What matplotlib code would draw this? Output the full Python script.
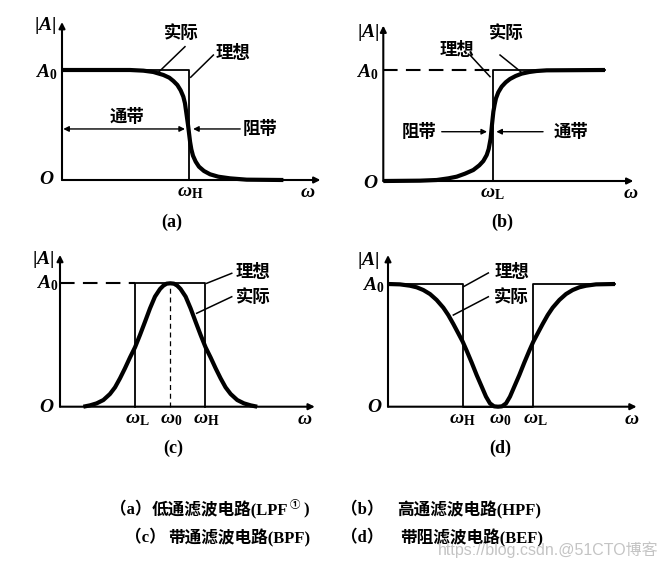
import matplotlib
matplotlib.use('Agg')
import matplotlib.pyplot as plt

plt.rcParams['mathtext.fontset'] = 'custom'
plt.rcParams['mathtext.it'] = 'Liberation Serif:italic:bold'
plt.rcParams['mathtext.rm'] = 'Liberation Serif:bold'
plt.rcParams['mathtext.bf'] = 'Liberation Serif:bold'
plt.rcParams['font.family'] = ['Liberation Serif', 'Noto Sans CJK SC']

W, H = 665, 569
CJK = ['Noto Sans CJK SC']

# ---- data: omega in units of the cutoff, |A| in units of A0 ----
# (a) low pass
lpf_w = [0, 0.534, 0.639, 0.717, 0.796, 0.843, 0.875, 0.906, 0.932, 0.953,
         0.966, 0.979, 0.990, 0.998, 1.006, 1.016, 1.029, 1.05, 1.076, 1.115,
         1.163, 1.228, 1.320, 1.451, 1.739]
lpf_a = [1.0, 1.0, 0.994, 0.982, 0.955, 0.930, 0.9, 0.864, 0.815, 0.758,
         0.697, 0.591, 0.5, 0.424, 0.348, 0.279, 0.221, 0.167, 0.121, 0.082,
         0.052, 0.030, 0.015, 0.003, 0.0]
lpf_ideal_w = [0, 1, 1]
lpf_ideal_a = [1, 1, 0]

# (b) high pass
hpf_w = [0, 0.336, 0.489, 0.596, 0.672, 0.748, 0.824, 0.879, 0.916, 0.947,
         0.965, 0.983, 0.995, 1.008, 1.020, 1.032, 1.053, 1.084, 1.121, 1.160,
         1.212, 1.267, 1.337, 1.404, 1.496, 2.03]
hpf_a = [0, 0.003, 0.009, 0.024, 0.039, 0.066, 0.099, 0.141, 0.180, 0.234,
         0.288, 0.384, 0.505, 0.625, 0.691, 0.745, 0.799, 0.850, 0.889, 0.919,
         0.946, 0.967, 0.982, 0.991, 0.997, 1.0]
hpf_ideal_w = [1, 1, 2.03]
hpf_ideal_a = [0, 1, 1]

# (c) band pass
bpf_w = [0.212, 0.272, 0.332, 0.393, 0.453, 0.499, 0.544, 0.589, 0.635, 0.680,
         0.725, 0.771, 0.816, 0.861, 0.907, 0.937, 0.967, 1.0, 1.033, 1.063,
         1.093, 1.139, 1.184, 1.229, 1.275, 1.320, 1.365, 1.411, 1.456, 1.501,
         1.547, 1.607, 1.668, 1.728, 1.788]
bpf_a = [0, 0.011, 0.027, 0.054, 0.103, 0.157, 0.23, 0.311, 0.4, 0.481,
         0.581, 0.689, 0.797, 0.892, 0.954, 0.981, 0.997, 1.0, 0.997, 0.981,
         0.954, 0.892, 0.797, 0.689, 0.581, 0.481, 0.4, 0.311, 0.23, 0.157,
         0.103, 0.054, 0.027, 0.011, 0]
bpf_edges = [0.683, 1.0, 1.318]          # wL, w0, wH
bpf_ideal_w = [0.683, 0.683, 1.318, 1.318]
bpf_ideal_a = [0, 1, 1, 0]

# (d) band stop
bef_w = [0, 0.109, 0.2, 0.261, 0.321, 0.382, 0.442, 0.503, 0.548, 0.594,
         0.639, 0.679, 0.715, 0.761, 0.806, 0.852, 0.891, 0.927, 0.964, 1.0,
         1.036, 1.073, 1.109, 1.148, 1.194, 1.239, 1.285, 1.321, 1.361, 1.406,
         1.452, 1.497, 1.558, 1.618, 1.679, 1.739, 1.8, 1.891, 2.064]
bef_a = [1.0, 0.997, 0.986, 0.973, 0.951, 0.918, 0.870, 0.807, 0.747, 0.674,
         0.598, 0.530, 0.457, 0.359, 0.258, 0.163, 0.082, 0.027, 0.003, 0,
         0.003, 0.027, 0.082, 0.163, 0.258, 0.359, 0.457, 0.530, 0.598, 0.674,
         0.747, 0.807, 0.870, 0.918, 0.951, 0.973, 0.986, 0.997, 1.0]
bef_edges = [0.682, 1.0, 1.321]          # wH, w0, wL
bef_ideal_w = [0, 0.682, 0.682, 1.321, 1.321, 2.064]
bef_ideal_a = [1, 1, 0, 0, 1, 1]

# panel geometry in pixels: origin, px per unit, axis lengths
geo = {
    'a': dict(ox=62, oy=180, sx=127.3, sy=110, xend=2.03, ytop=1.436),
    'b': dict(ox=383.3, oy=181, sx=109.2, sy=111, xend=2.29, ytop=1.40),
    'c': dict(ox=60, oy=406.7, sx=110.3, sy=123.4, xend=2.31, ytop=1.23),
    'd': dict(ox=388, oy=406.7, sx=110, sy=122.7, xend=2.26, ytop=1.236),
}

fig = plt.figure(figsize=(W / 100, H / 100), dpi=100)

THICK = 3.0
THIN = 1.3


def make_ax(g):
    ax = fig.add_axes([g['ox'] / W, 1 - g['oy'] / H,
                       g['xend'] * g['sx'] / W, g['ytop'] * g['sy'] / H])
    ax.set_xlim(0, g['xend'])
    ax.set_ylim(0, g['ytop'])
    ax.axis('off')
    ap = dict(arrowstyle='-|>', lw=1.5, color='k', mutation_scale=9,
              shrinkA=0, shrinkB=0)
    ax.annotate('', xy=(g['xend'], 0), xytext=(0, 0), arrowprops=ap)
    ax.annotate('', xy=(0, g['ytop']), xytext=(0, 0), arrowprops=ap)
    return ax


def lab(ax, s, x, y, dx, dy, size=14, **kw):
    ax.annotate(s, (x, y), xytext=(dx, dy), textcoords='offset pixels',
                ha='center', va='center', fontsize=size, **kw)


def cn(ax, s, x, y, ha='center'):
    ax.text(x, y, s, ha=ha, va='center', fontsize=12.5, family=CJK,
            fontweight='bold')


def leader(ax, p0, p1):
    ax.plot([p0[0], p1[0]], [p0[1], p1[1]], color='k', lw=1.1, clip_on=False)


def arrow(ax, x0, x1, y, style='-|>'):
    ax.annotate('', xy=(x1, y), xytext=(x0, y),
                arrowprops=dict(arrowstyle=style, lw=1.0, color='k',
                                mutation_scale=8, shrinkA=0, shrinkB=0))


def curve(ax, w, a):
    ax.plot(w, a, color='k', lw=THICK, clip_on=False, solid_capstyle='butt',
            solid_joinstyle='round')


dash = (0, (7, 4))

# ---- (a) ----
g = geo['a']
ax = make_ax(g)
curve(ax, lpf_w, lpf_a)
ax.plot(lpf_ideal_w, lpf_ideal_a, color='k', lw=THIN, clip_on=False)
lab(ax, r'$|A|$', 0, g['ytop'], -17, -3)
lab(ax, r'$A_0$', 0, 1, -16, -2)
lab(ax, r'$O$', 0, 0, -15, 0)
lab(ax, r'$\omega_{\mathrm{H}}$', 1, 0, 1, -13)
lab(ax, r'$\omega$', g['xend'], 0, -13, -13)
cn(ax, '实际', 0.94, 1.335)
leader(ax, (0.966, 1.212), (0.744, 0.964))
cn(ax, '理想', 1.343, 1.152)
leader(ax, (1.189, 1.136), (1.011, 0.934))
cn(ax, '通带', 0.51, 0.573)
arrow(ax, 0.01, 0.966, 0.464, '<|-|>')
arrow(ax, 1.40, 1.03, 0.464)
cn(ax, '阻带', 1.42, 0.464, ha='left')

# ---- (b) ----
g = geo['b']
ax = make_ax(g)
curve(ax, hpf_w, hpf_a)
ax.plot([0, 1], [1, 1], color='k', lw=1.5, linestyle=dash, clip_on=False)
ax.plot(hpf_ideal_w, hpf_ideal_a, color='k', lw=THIN, clip_on=False)
lab(ax, r'$|A|$', 0, g['ytop'], -15, -7)
lab(ax, r'$A_0$', 0, 1, -16, -2)
lab(ax, r'$O$', 0, 0, -13, -2)
lab(ax, r'$\omega_{\mathrm{L}}$', 1, 0, 0, -12)
lab(ax, r'$\omega$', g['xend'], 0, -3, -12)
cn(ax, '理想', 0.672, 1.18)
leader(ax, (0.794, 1.135), (0.977, 0.94))
cn(ax, '实际', 1.13, 1.33)
leader(ax, (1.069, 1.135), (1.258, 0.985))
cn(ax, '阻带', 0.326, 0.444)
arrow(ax, 0.535, 0.95, 0.444)
arrow(ax, 1.463, 1.035, 0.444)
cn(ax, '通带', 1.72, 0.444)

# ---- (c) ----
g = geo['c']
ax = make_ax(g)
curve(ax, bpf_w, bpf_a)
ax.plot([0, bpf_edges[0]], [1, 1], color='k', lw=1.5, linestyle=dash, clip_on=False)
ax.plot(bpf_ideal_w, bpf_ideal_a, color='k', lw=THIN, clip_on=False)
ax.plot([bpf_edges[1]] * 2, [0, 1], color='k', lw=0.9, linestyle=(0, (4, 3)),
        clip_on=False)
lab(ax, r'$|A|$', 0, g['ytop'], -17, -5)
lab(ax, r'$A_0$', 0, 1, -13, 0)
lab(ax, r'$O$', 0, 0, -13, -1)
for s, x, dx in zip([r'$\omega_{\mathrm{L}}$', r'$\omega_0$', r'$\omega_{\mathrm{H}}$'],
                    bpf_edges, [2, 1, 1]):
    lab(ax, s, x, 0, dx, -13)
lab(ax, r'$\omega$', g['xend'], 0, -10, -13)
cn(ax, '理想', 1.753, 1.094)
leader(ax, (1.557, 1.081), (1.33, 1.0))
cn(ax, '实际', 1.753, 0.891)
leader(ax, (1.557, 0.891), (1.239, 0.757))

# ---- (d) ----
g = geo['d']
ax = make_ax(g)
curve(ax, bef_w, bef_a)
ax.plot(bef_ideal_w, bef_ideal_a, color='k', lw=THIN, clip_on=False)
lab(ax, r'$|A|$', 0, g['ytop'], -20, -5)
lab(ax, r'$A_0$', 0, 1, -15, -1)
lab(ax, r'$O$', 0, 0, -13, -1)
for s, x, dx in zip([r'$\omega_{\mathrm{H}}$', r'$\omega_0$', r'$\omega_{\mathrm{L}}$'],
                    bef_edges, [-1, 2, 2]):
    lab(ax, s, x, 0, dx, -13)
lab(ax, r'$\omega$', g['xend'], 0, -5, -13)
cn(ax, '理想', 1.124, 1.10)
leader(ax, (0.912, 1.09), (0.69, 0.98))
cn(ax, '实际', 1.124, 0.896)
leader(ax, (0.912, 0.896), (0.594, 0.747))

# panel tags
for s, x, y in [('(a)', 172, 222), ('(b)', 502, 222), ('(c)', 173, 448), ('(d)', 500, 448)]:
    fig.text(x / W, 1 - y / H, s, ha='center', va='center', fontsize=13,
             fontweight='bold')


def ftext(x, y, s, size=12, **kw):
    return fig.text(x / W, 1 - y / H, s, ha='left', va='center', fontsize=size,
                    fontweight='bold', **kw)


rend = fig.canvas.get_renderer()
ftext(110, 510, '（a）')
t = ftext(152, 510, '低通滤波电路(LPF')
x_end = t.get_window_extent(rend).x1
ftext(x_end + 1, 505, '①', size=7.5)
ftext(x_end + 15, 510, ')')
ftext(341, 510, '（b）')
ftext(397, 510, '高通滤波电路(HPF)')
ftext(125, 538, '（c）')
ftext(168, 538, '带通滤波电路(BPF)')
ftext(341, 538, '（d）')
ftext(400, 538, '带阻滤波电路(BEF)')

fig.text(438 / W, 1 - 550 / H, 'https://blog.csdn.@51CTO博客', ha='left',
         va='center', fontsize=11.5, color='#c4c4c4',
         family=['Liberation Sans', 'Noto Sans CJK SC'])

fig.savefig('out.png', dpi=100)
